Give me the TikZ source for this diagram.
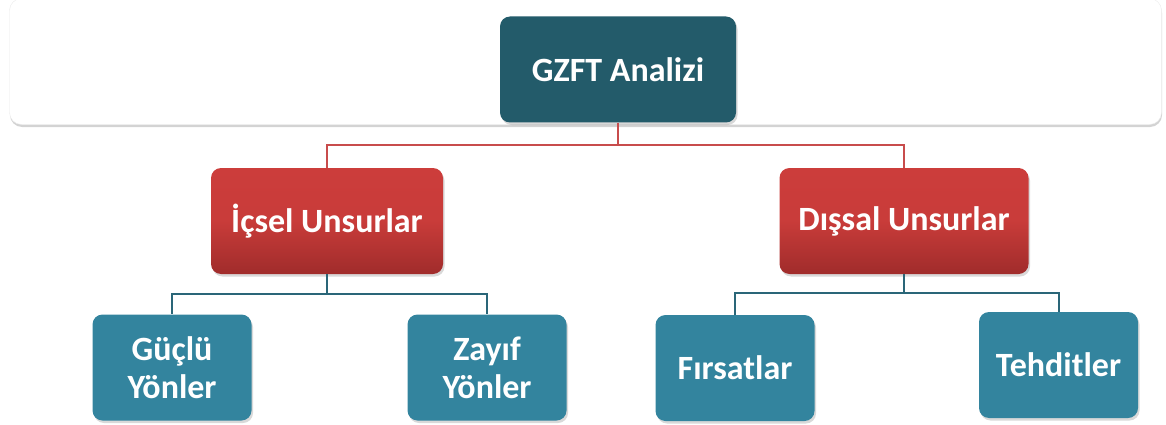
\documentclass[tikz,border=0pt]{standalone}
\usepackage{fontspec}
\setmainfont{Carlito}
\usetikzlibrary{shadows}
\definecolor{darkteal}{HTML}{235B6A}
\definecolor{boxblue}{HTML}{33849E}
\definecolor{redtop}{HTML}{CC3D3B}
\definecolor{redbot}{HTML}{A02C2B}
\definecolor{redline}{HTML}{C84C4C}
\definecolor{tealline}{HTML}{2A6678}
\tikzset{
  basebox/.style={rectangle, rounded corners=10pt, inner sep=0pt, align=center,
    text=white, font=\fontsize{34}{38}\selectfont\bfseries,
    drop shadow={shadow xshift=1.5pt, shadow yshift=-2.5pt, opacity=0.3}},
  topbox/.style={basebox, fill=darkteal, minimum width=236pt, minimum height=106pt},
  midbox/.style={basebox, top color=redtop, bottom color=redbot, middle color=redtop!92!redbot, minimum height=106pt},
  leafbox/.style={basebox, fill=boxblue, minimum width=159pt, minimum height=106pt},
  rconn/.style={draw=redline, line width=1.6pt},
  tconn/.style={draw=tealline, line width=2pt},
}
\begin{document}
\begin{tikzpicture}[x=1pt,y=-1pt]
\useasboundingbox (0,0) rectangle (1166,425);
\path[fill=white, draw=black!8, rounded corners=12pt,
  drop shadow={shadow xshift=0.5pt, shadow yshift=-2.5pt, opacity=0.35}]
  (9.5,-1.5) rectangle (1161.5,124.5);
\node[topbox] (gz) at (618,69.5) {GZFT Analizi};
\node[midbox, minimum width=232pt] (ic) at (327,221) {İçsel Unsurlar};
\node[midbox, minimum width=249pt] (dis) at (904,221) {Dışsal Unsurlar};
\node[leafbox] (gu) at (172,367.5) {Güçlü\\Yönler};
\node[leafbox] (za) at (487,367.5) {Zayıf\\Yönler};
\node[leafbox] (fi) at (735,368) {Fırsatlar};
\node[leafbox] (te) at (1058.5,365) {Tehditler};
\coordinate (rb) at (618,145);
\coordinate (lb) at (327,294);
\coordinate (db) at (904,293);
\draw[rconn] (gz.south) -- (rb) -| (ic.north);
\draw[rconn] (rb) -| (dis.north);
\draw[tconn] (ic.south) -- (lb) -| (gu.north);
\draw[tconn] (lb) -| (za.north);
\draw[tconn] (dis.south) -- (db) -| (fi.north);
\draw[tconn] (db) -| (te.north);
\end{tikzpicture}
\end{document}
